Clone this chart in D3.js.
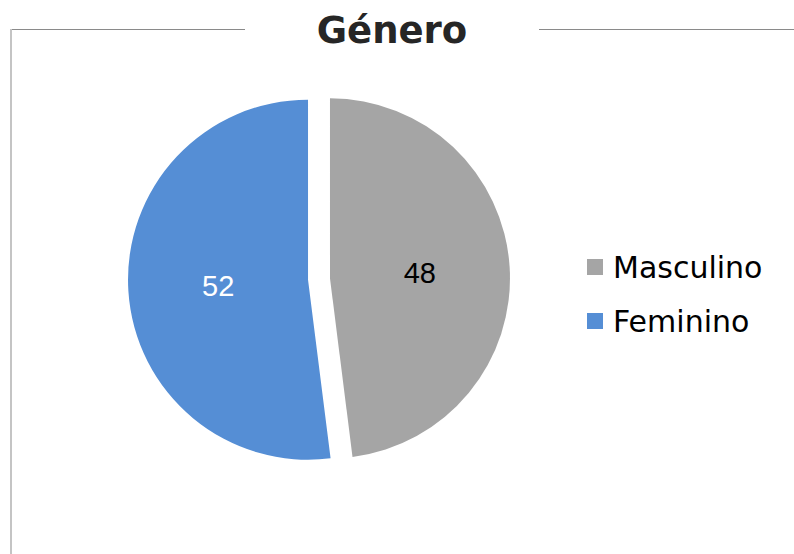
<!DOCTYPE html>
<html>
<head>
<meta charset="utf-8">
<script src="https://cdn.jsdelivr.net/npm/d3@7"></script>
<style>
  html, body { margin: 0; padding: 0; background: #ffffff; }
  svg { display: block; }
</style>
</head>
<body>
<svg id="chart" width="794" height="554"></svg>
<script>
// Gender breakdown
const categories = ["Masculino", "Feminino"];
const values = [48, 52];
const colors = ["#A5A5A5", "#558ED5"];
const labelColors = ["#000000", "#ffffff"];
const title = "Género";

const W = 794, H = 554;
const svg = d3.select("#chart");

// Frame: top rule broken by the title, left rule running down
const frame = svg.append("g");
frame.append("line").attr("x1", 10).attr("x2", 245).attr("y1", 29.5).attr("y2", 29.5)
  .attr("stroke", "#8a8a8a").attr("stroke-width", 1.2);
frame.append("line").attr("x1", 539).attr("x2", W).attr("y1", 29.5).attr("y2", 29.5)
  .attr("stroke", "#8a8a8a").attr("stroke-width", 1.2);
frame.append("line").attr("x1", 11).attr("x2", 11).attr("y1", 29).attr("y2", H)
  .attr("stroke", "#c4c4c4").attr("stroke-width", 2);

// Title
svg.append("text")
  .attr("x", 392).attr("y", 43)
  .attr("text-anchor", "middle")
  .attr("font-family", "DejaVu Sans")
  .attr("font-weight", "bold")
  .attr("font-size", 37)
  .attr("fill", "#262626")
  .text(title);

// Pie
const cx = 319, cy = 279, r = 180, explode = 11;
const pie = d3.pie().sort(null).value(d => d)(values);
const arc = d3.arc().innerRadius(0).outerRadius(r);
const labelArc = d3.arc().innerRadius(r * 0.5).outerRadius(r * 0.5);

const g = svg.append("g").attr("transform", `translate(${cx},${cy})`);
const slices = g.selectAll("g.slice").data(pie).enter().append("g")
  .attr("class", "slice")
  .attr("transform", d => {
    const a = (d.startAngle + d.endAngle) / 2;
    return `translate(${explode * Math.sin(a)},${-explode * Math.cos(a)})`;
  });

slices.append("path")
  .attr("d", arc)
  .attr("fill", (d, i) => colors[i]);

slices.append("text")
  .attr("transform", d => `translate(${labelArc.centroid(d)})`)
  .attr("dy", "0.36em")
  .attr("text-anchor", "middle")
  .attr("font-family", "Liberation Sans")
  .attr("font-size", 29)
  .attr("fill", (d, i) => labelColors[i])
  .text(d => d.data);

// Legend
const legend = svg.append("g").attr("transform", "translate(587,0)");
const items = legend.selectAll("g").data(categories).enter().append("g")
  .attr("transform", (d, i) => `translate(0,${259 + i * 54})`);
items.append("rect").attr("width", 16).attr("height", 16)
  .attr("fill", (d, i) => colors[i]);
items.append("text")
  .attr("x", 26).attr("y", 8).attr("dy", "0.36em")
  .attr("font-family", "DejaVu Sans")
  .attr("font-size", 30)
  .attr("fill", "#000000")
  .text(d => d);
</script>
</body>
</html>
